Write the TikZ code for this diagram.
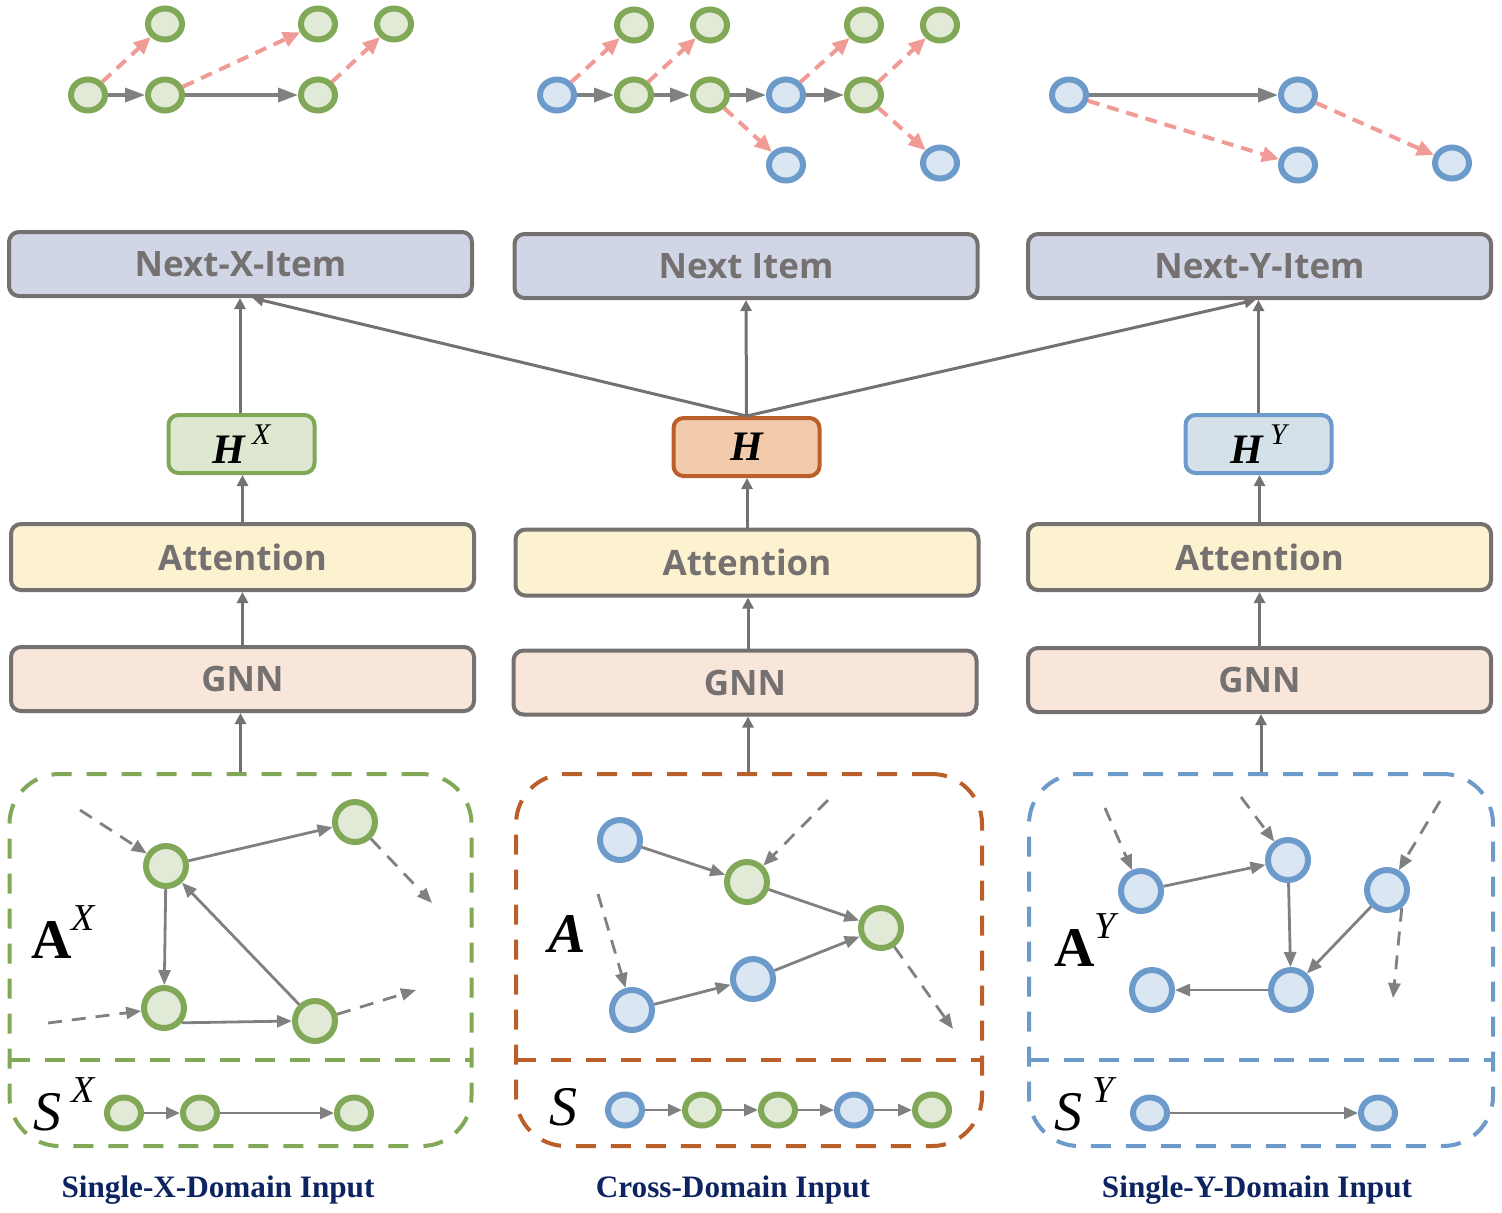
\documentclass[tikz,border=0pt]{standalone}
\usepackage{fontspec}
\newfontfamily\boxfont{Open Sans}
\newfontfamily\capfont{Liberation Serif}
\newfontfamily\symfont{Liberation Serif}
\usetikzlibrary{arrows.meta,shapes.geometric,calc}
\definecolor{gstroke}{RGB}{128,168,86}
\definecolor{gfill}{RGB}{225,234,214}
\definecolor{bstroke}{RGB}{108,155,203}
\definecolor{bfill}{RGB}{218,230,242}
\definecolor{ostroke}{RGB}{186,95,42}
\definecolor{redc}{RGB}{241,155,151}
\definecolor{edgegray}{RGB}{128,128,128}
\definecolor{boxgray}{RGB}{118,113,113}
\definecolor{nextfill}{RGB}{208,214,230}
\definecolor{attfill}{RGB}{253,242,208}
\definecolor{gnnfill}{RGB}{248,230,218}
\definecolor{hxfill}{RGB}{222,231,207}
\definecolor{hfill}{RGB}{242,203,173}
\definecolor{hyfill}{RGB}{213,225,232}
\definecolor{capc}{RGB}{14,36,96}
\tikzset{
  gnode/.style={ellipse, draw=gstroke, fill=gfill, line width=3pt, minimum width=17pt, minimum height=15.5pt, inner sep=0pt},
  bnode/.style={gnode, draw=bstroke, fill=bfill},
  gcirc/.style={circle, draw=gstroke, fill=gfill, line width=3pt, minimum size=20pt, inner sep=0pt},
  bcirc/.style={gcirc, draw=bstroke, fill=bfill},
  toparr/.style={draw=edgegray, line width=1.75pt, -{Triangle[length=10pt,width=7pt]}},
  redarr/.style={draw=redc, line width=2pt, dash pattern=on 6pt off 4pt, -{Triangle[length=8.5pt,width=7.5pt]}},
  edgearr/.style={draw=edgegray, line width=1.4pt, -{Triangle[length=7.5pt,width=6pt]}},
  dedgearr/.style={edgearr, dash pattern=on 7pt off 5pt},
  seqarr/.style={draw=edgegray, line width=1.3pt, -{Triangle[length=7pt,width=6pt]}},
  flow/.style={draw=boxgray, line width=1.5pt, -{Triangle[length=5.5pt,width=5.5pt]}},
  blockbox/.style={rectangle, rounded corners=5pt, draw=boxgray, line width=2pt, minimum width=231.5pt, minimum height=32pt, inner sep=0pt, text=boxgray, font=\boxfont\bfseries\fontsize{17.5}{20}\selectfont},
  hbox/.style={rectangle, rounded corners=5pt, line width=2pt, minimum width=73pt, minimum height=29pt, inner sep=0pt, font=\fontsize{21}{24}\selectfont},
  panel/.style={rectangle, rounded corners=25pt, line width=2pt, dash pattern=on 10pt off 7.5pt, minimum width=231pt, minimum height=186pt, inner sep=0pt},
  divider/.style={line width=2pt, dash pattern=on 10pt off 7.5pt},
  biglabel/.style={inner sep=0pt, font=\symfont\fontsize{28}{30}\selectfont},
  caption/.style={inner sep=0pt, text=capc, font=\capfont\bfseries\fontsize{15.6}{18}\selectfont}
}
\begin{document}
\begin{tikzpicture}[x=0.5pt,y=-0.5pt]
\useasboundingbox (0,0) rectangle (1502,1212);

% ---------- top left graph ----------
\node[gnode] (la) at (88,95) {};
\node[gnode] (lb) at (165,95) {};
\node[gnode] (lc) at (318,95) {};
\node[gnode] (ld) at (165,24) {};
\node[gnode] (le) at (318,24) {};
\node[gnode] (lf) at (394,24) {};
\draw[toparr] (la) -- (lb);
\draw[toparr] (lb) -- (lc);
\draw[redarr] (la) -- (ld);
\draw[redarr] (lb) -- (le);
\draw[redarr] (lc) -- (lf);

% ---------- top middle graph ----------
\node[bnode] (ma) at (557,95) {};
\node[gnode] (mb) at (634,95) {};
\node[gnode] (mc) at (710,95) {};
\node[bnode] (md) at (786,95) {};
\node[gnode] (me) at (864,95) {};
\node[gnode] (mf) at (634,25) {};
\node[gnode] (mg) at (710,25) {};
\node[gnode] (mh) at (864,25) {};
\node[gnode] (mi) at (940,25) {};
\node[bnode] (mj) at (786,165) {};
\node[bnode] (mk) at (940,163) {};
\draw[toparr] (ma) -- (mb);
\draw[toparr] (mb) -- (mc);
\draw[toparr] (mc) -- (md);
\draw[toparr] (md) -- (me);
\draw[redarr] (ma) -- (mf);
\draw[redarr] (mb) -- (mg);
\draw[redarr] (mc) -- (mj);
\draw[redarr] (md) -- (mh);
\draw[redarr] (me) -- (mi);
\draw[redarr] (me) -- (mk);

% ---------- top right graph ----------
\node[bnode] (ra) at (1069,95) {};
\node[bnode] (rb) at (1298,95) {};
\node[bnode] (rc) at (1298,165) {};
\node[bnode] (rd) at (1452,163) {};
\draw[toparr] (ra) -- (rb);
\draw[redarr] (ra) -- (rc);
\draw[redarr] (rb) -- (rd);

% ---------- output boxes ----------
\node[blockbox, fill=nextfill] (nx) at (240.5,264) {Next-X-Item};
\node[blockbox, fill=nextfill] (nm) at (746,266) {Next Item};
\node[blockbox, fill=nextfill] (ny) at (1259.5,266) {Next-Y-Item};

% ---------- H boxes ----------
\node[hbox, draw=gstroke, fill=hxfill] (hx) at (241.5,444) {{\symfont\bfseries\itshape H}\,\raisebox{0.45em}{\symfont\itshape\fontsize{15}{15}\selectfont X}};
\node[hbox, draw=ostroke, fill=hfill] (hm) at (746.5,447) {{\symfont\bfseries\itshape H}};
\node[hbox, draw=bstroke, fill=hyfill] (hy) at (1258.5,444) {{\symfont\bfseries\itshape H}\,\raisebox{0.45em}{\symfont\itshape\fontsize{15}{15}\selectfont Y}};

% ---------- attention ----------
\node[blockbox, fill=attfill, minimum height=33pt] (ax) at (242.5,557) {Attention};
\node[blockbox, fill=attfill, minimum height=33pt] (am) at (747,562.5) {Attention};
\node[blockbox, fill=attfill, minimum height=33pt] (ay) at (1259.5,557) {Attention};

% ---------- GNN ----------
\node[blockbox, fill=gnnfill] (gx) at (242.5,679) {GNN};
\node[blockbox, fill=gnnfill] (gm) at (745,682.5) {GNN};
\node[blockbox, fill=gnnfill] (gy) at (1259.5,680) {GNN};

% ---------- panels ----------
\node[panel, draw=gstroke] (px) at (240.5,960) {};
\node[panel, draw=ostroke, minimum width=233pt] (pm) at (749,960) {};
\node[panel, draw=bstroke, minimum width=232pt] (py) at (1261,960) {};
\draw[divider, draw=gstroke] (10,1060) -- (471,1060);
\draw[divider, draw=ostroke] (516,1060) -- (982,1060);
\draw[divider, draw=bstroke] (1029,1060) -- (1493,1060);

% ---------- flow arrows ----------
\draw[flow] (px.north) -- (gx.south -| px.north);
\draw[flow] (gx.north) -- (ax.south);
\draw[flow] (ax.north) -- (hx.south -| ax.north);
\draw[flow] (hx.north -| 240,0) -- (nx.south -| 240,0);

\draw[flow] (pm.north -| 748,0) -- (gm.south -| 748,0);
\draw[flow] (gm.north -| 748,0) -- (am.south -| 748,0);
\draw[flow] (am.north -| 747,0) -- (hm.south -| 747,0);
\draw[flow] (hm.north) -- (nm.south);
\draw[flow] (hm.north) -- ($(nx.south)+(12,0)$);
\draw[flow] (hm.north) -- ($(ny.south)+(-4,0)$);

\draw[flow] (py.north) -- (gy.south -| py.north);
\draw[flow] (gy.north) -- (ay.south);
\draw[flow] (ay.north) -- (hy.south -| ay.north);
\draw[flow] (hy.north) -- (ny.south -| hy.north);

% ---------- left panel ----------
\node[gcirc] (xa) at (166,866) {};
\node[gcirc] (xb) at (355,822) {};
\node[gcirc] (xc) at (164,1008) {};
\node[gcirc] (xd) at (315,1021) {};
\coordinate (xi1) at (80,810);
\coordinate (xo1) at (432,903);
\coordinate (xi2) at (48,1023);
\coordinate (xo2) at (416,990);
\draw[edgearr] (xa) -- (xb);
\draw[edgearr] (xa) -- (xc);
\draw[edgearr] (xd) -- (xa);
\draw[edgearr] (xc.-40) -- (xd.west);
\draw[dedgearr] (xi1) -- (xa);
\draw[dedgearr] (xb) -- (xo1);
\draw[dedgearr] (xi2) -- (xc);
\draw[dedgearr] (xd) -- (xo2);
\node[biglabel] (lax) at (63,932) {{\bfseries A}\raisebox{0.5em}{\itshape\fontsize{19}{19}\selectfont X}};
\node[biglabel] (lsx) at (64,1104) {{\itshape S}\,\raisebox{0.5em}{\itshape\fontsize{19}{19}\selectfont X}};
\node[gnode] (sx1) at (124,1113) {};
\node[gnode] (sx2) at (200,1113) {};
\node[gnode] (sx3) at (354,1113) {};
\draw[seqarr] (sx1) -- (sx2);
\draw[seqarr] (sx2) -- (sx3);
\node[caption] (cx) at (218,1190) {Single-X-Domain Input};

% ---------- middle panel ----------
\node[bcirc] (ya) at (620,840) {};
\node[gcirc] (yb) at (747,882) {};
\node[gcirc] (yc) at (881,928) {};
\node[bcirc] (yd) at (632,1010) {};
\node[bcirc] (ye) at (753,979) {};
\coordinate (yi1) at (828,800);
\coordinate (yi2) at (598,894);
\coordinate (yo1) at (953,1029);
\draw[edgearr] (ya) -- (yb);
\draw[edgearr] (yb) -- (yc);
\draw[edgearr] (yd) -- (ye);
\draw[edgearr] (ye) -- (yc);
\draw[dedgearr] (yi1) -- (yb);
\draw[dedgearr] (yi2) -- (yd);
\draw[dedgearr] (yc) -- (yo1);
\node[biglabel] (lam) at (567,934) {\bfseries\itshape A};
\node[biglabel] (lsm) at (563,1107) {\itshape S};
\node[bnode] (sm1) at (625,1110) {};
\node[gnode] (sm2) at (702,1110) {};
\node[gnode] (sm3) at (778,1110) {};
\node[bnode] (sm4) at (854,1110) {};
\node[gnode] (sm5) at (932,1110) {};
\draw[seqarr] (sm1) -- (sm2);
\draw[seqarr] (sm2) -- (sm3);
\draw[seqarr] (sm3) -- (sm4);
\draw[seqarr] (sm4) -- (sm5);
\node[caption] (cm) at (733,1190) {Cross-Domain Input};

% ---------- right panel ----------
\node[bcirc] (za) at (1141,891) {};
\node[bcirc] (zb) at (1288,860) {};
\node[bcirc] (zc) at (1387,890) {};
\node[bcirc] (zd) at (1152,990) {};
\node[bcirc] (ze) at (1291,990) {};
\coordinate (zi1) at (1105,808);
\coordinate (zi2) at (1241,797);
\coordinate (zi3) at (1440,801);
\coordinate (zo1) at (1393,998);
\draw[edgearr] (za) -- (zb);
\draw[edgearr] (zb) -- (ze);
\draw[edgearr] (zc) -- (ze);
\draw[edgearr] (ze) -- (zd);
\draw[dedgearr] (zi1) -- (za);
\draw[dedgearr] (zi2) -- (zb);
\draw[dedgearr] (zi3) -- (zc);
\draw[dedgearr] (zc.-50) -- (zo1);
\node[biglabel] (lay) at (1085,940) {{\bfseries A}\raisebox{0.5em}{\itshape\fontsize{19}{19}\selectfont Y}};
\node[biglabel] (lsy) at (1084,1104) {{\itshape S}\,\raisebox{0.5em}{\itshape\fontsize{19}{19}\selectfont Y}};
\node[bnode] (sy1) at (1150,1113) {};
\node[bnode] (sy2) at (1378,1113) {};
\draw[seqarr] (sy1) -- (sy2);
\node[caption] (cy) at (1257,1190) {Single-Y-Domain Input};
\end{tikzpicture}
\end{document}
